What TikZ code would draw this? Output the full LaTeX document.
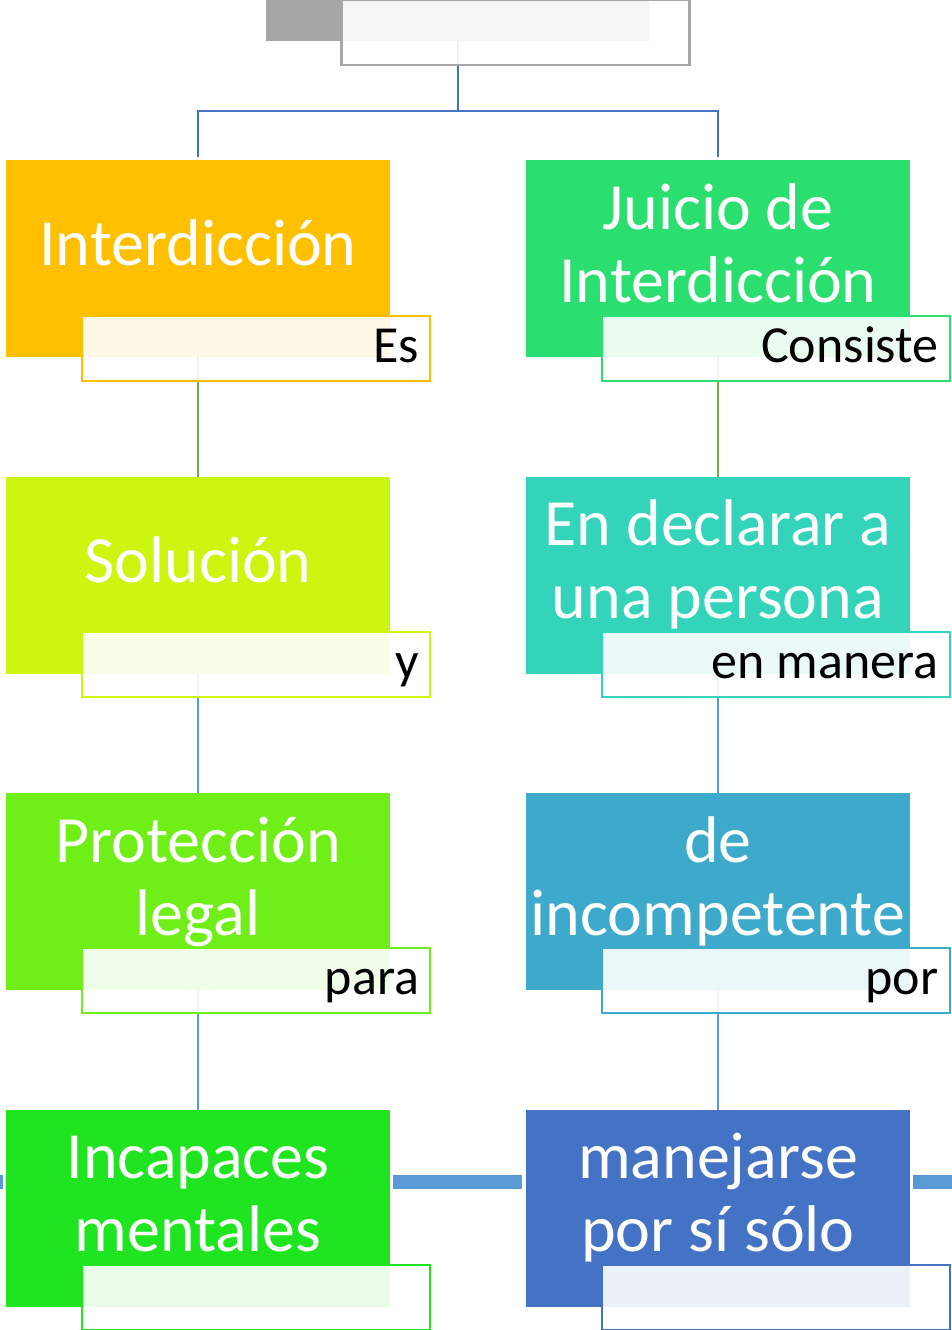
\documentclass[tikz,border=0pt]{standalone}
\usepackage{fontspec}
\setmainfont{Carlito}
\definecolor{cGray}{HTML}{A6A6A6}
\definecolor{cInter}{HTML}{FFC000}
\definecolor{cSol}{HTML}{CCF50F}
\definecolor{cProt}{HTML}{70EE17}
\definecolor{cIncap}{HTML}{1FE521}
\definecolor{cJuicio}{HTML}{2ADE70}
\definecolor{cDecl}{HTML}{33D4BA}
\definecolor{cIncomp}{HTML}{3DAACB}
\definecolor{cManej}{HTML}{4472C4}
\definecolor{cLinkA}{HTML}{4472C4}
\definecolor{cLinkB}{HTML}{70AD47}
\definecolor{cLinkC}{HTML}{5B9BD5}
\begin{document}
\begin{tikzpicture}[x=1pt, y=-1pt,
  box/.style={rectangle, fill=#1, minimum width=384pt, minimum height=197pt, inner sep=0pt},
  tag/.style={rectangle, draw=#1, line width=2pt, fill=white, fill opacity=0.9, text opacity=1,
    inner xsep=11pt, inner ysep=0pt, text width=326pt, minimum height=65pt, align=flush right,
    text height=35pt, text depth=8pt, font=\fontsize{52}{60}\selectfont},
  word/.style={text=white, font=\fontsize{66}{73}\selectfont, align=center, anchor=base, inner sep=0pt},
  link/.style={line width=2.5pt, draw=#1},
  bar/.style={line width=14pt, draw=cLinkC}]
\useasboundingbox (0,0) rectangle (952,1330);
\clip (0,0) rectangle (952,1330);
% boxes
\node[box=cGray] (top) at (458,-57.5) {};
\node[box=cInter] (inter) at (198,258.5) {};
\node[box=cSol] (sol) at (198,575.5) {};
\node[box=cProt] (prot) at (198,891.5) {};
\node[box=cIncap] (incap) at (198,1208.5) {};
\node[box=cJuicio] (juicio) at (718,258.5) {};
\node[box=cDecl] (decl) at (718,575.5) {};
\node[box=cIncomp] (incomp) at (718,891.5) {};
\node[box=cManej] (manej) at (718,1208.5) {};
% texts (base = last line)
\node[word] (inter-t) at (198,265) {Interdicción};
\node[word] (sol-t) at (198,582) {Solución};
\node[word] (prot-t) at (198,935) {Protección\\legal};
\node[word] (incap-t) at (198,1251.5) {Incapaces\\mentales};
\node[word] (juicio-t) at (718,302) {Juicio de\\Interdicción};
\node[word] (decl-t) at (718,618) {En declarar a\\una persona};
\node[word] (incomp-t) at (718,935) {de\\incompetente};
\node[word] (manej-t) at (718,1251.5) {manejarse\\por sí sólo};
% links
\coordinate (lft) at (-20,1182);
\coordinate (rgt) at (972,1182);
\draw[link=cLinkA] (top.south) -- ++(0,70) -| ([yshift=3pt]inter.north);
\draw[link=cLinkA] (top.south) -- ++(0,70) -| ([yshift=3pt]juicio.north);
\path[link=cLinkB] (inter) edge (sol);
\path[link=cLinkC] (sol) edge (prot);
\path[link=cLinkC] (prot) edge (incap);
\path[link=cLinkB] (juicio) edge (decl);
\path[link=cLinkC] (decl) edge (incomp);
\path[link=cLinkC] (incomp) edge (manej);
\draw[bar, shorten >=3pt] (lft) -- ([yshift=26.5pt]incap.west);
\draw[bar, shorten <=3pt, shorten >=4pt] ([yshift=26.5pt]incap.east) -- ([yshift=26.5pt]manej.west);
\draw[bar, shorten <=3pt] ([yshift=26.5pt]manej.east) -- (rgt);
% tags
\node[tag=cGray, line width=2.5pt] (top-l) at (515.5,32.5) {};
\node[tag=cInter] (inter-l) at (256,348.5) {Es};
\node[tag=cSol] (sol-l) at (256,664.5) {y};
\node[tag=cProt] (prot-l) at (256,980.5) {para};
\node[tag=cIncap] (incap-l) at (256,1297.5) {};
\node[tag=cJuicio] (juicio-l) at (775.5,348.5) {Consiste};
\node[tag=cDecl] (decl-l) at (775.5,664.5) {en manera};
\node[tag=cIncomp] (incomp-l) at (775.5,980.5) {por};
\node[tag=cManej] (manej-l) at (775.5,1297.5) {};
\end{tikzpicture}
\end{document}
